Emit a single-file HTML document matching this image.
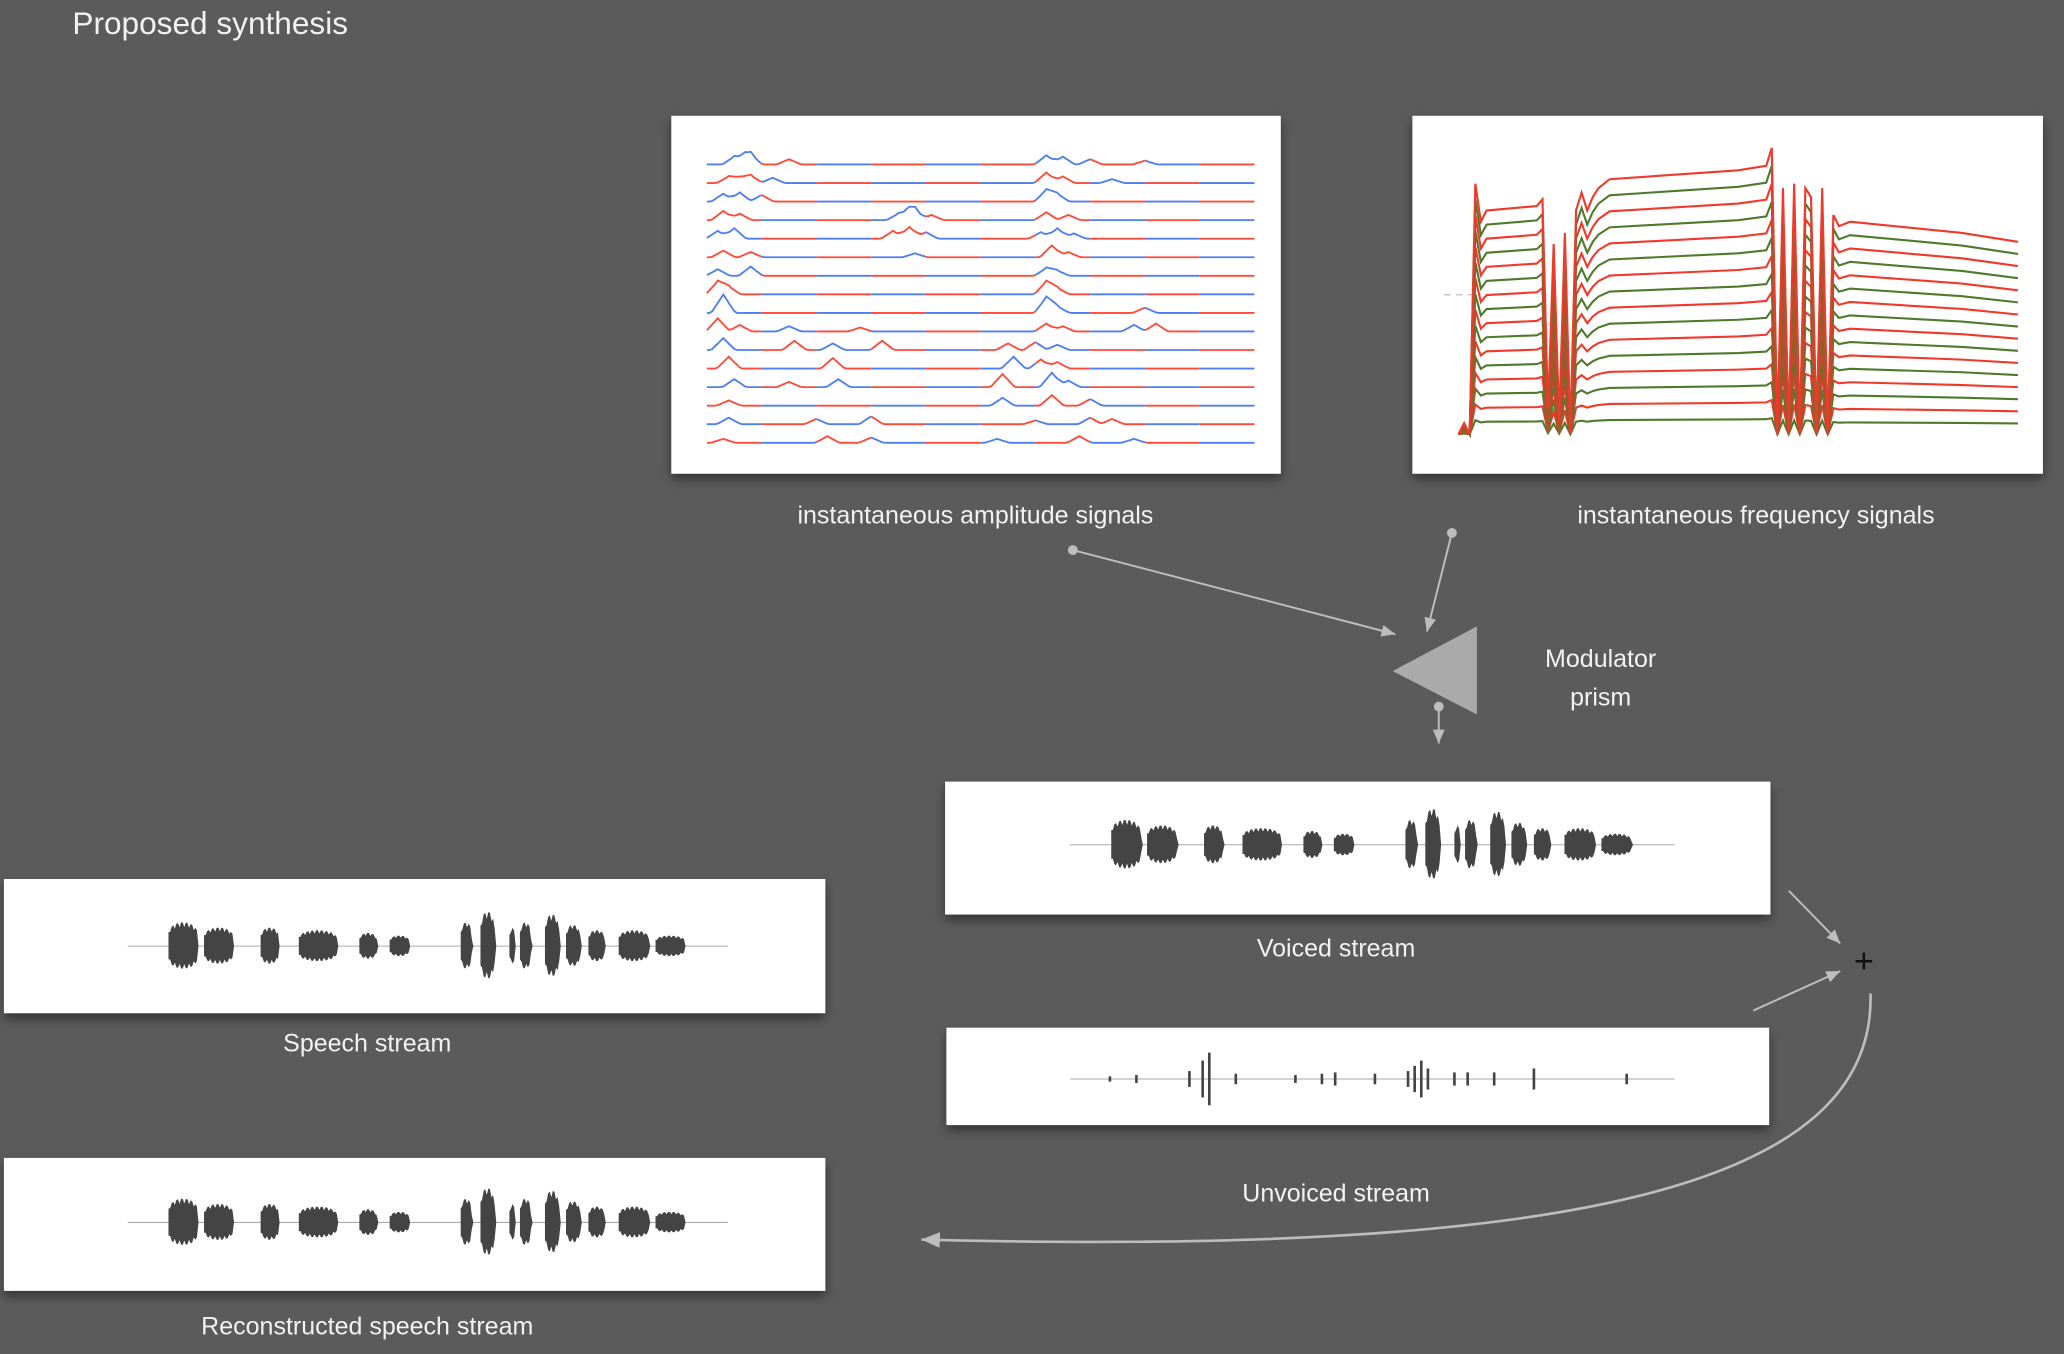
<!DOCTYPE html>
<html><head><meta charset="utf-8"><style>
html,body{margin:0;padding:0;background:#5b5b5b;}
svg{display:block;}
text{font-family:"Liberation Sans","DejaVu Sans",sans-serif;fill:#f2f2f2;}
</style></head><body>
<svg id="s" width="2064" height="1354" viewBox="0 0 1568 1029" preserveAspectRatio="none">
<defs>
<filter id="sh" x="-5%" y="-5%" width="110%" height="120%"><feDropShadow dx="0" dy="4" stdDeviation="4" flood-color="#000" flood-opacity="0.45"/></filter>
<marker id="ah" markerWidth="8" markerHeight="8" refX="7" refY="4" orient="auto"><path d="M0,1 L7,4 L0,7 Z" fill="#bdbdbd"/></marker>
</defs>
<rect width="1568" height="1029" fill="#5b5b5b"/>
<text x="55" y="26" font-size="24">Proposed synthesis</text>

<rect x="510" y="88" width="463" height="272" fill="#fff" filter="url(#sh)"/>
<rect x="1073" y="88" width="479" height="272" fill="#fff" filter="url(#sh)"/>
<rect x="718" y="594" width="627" height="101" fill="#fff" filter="url(#sh)"/>
<rect x="719" y="781" width="625" height="74" fill="#fff" filter="url(#sh)"/>
<rect x="3" y="668" width="624" height="102" fill="#fff" filter="url(#sh)"/>
<rect x="3" y="880" width="624" height="101" fill="#fff" filter="url(#sh)"/>
<line x1="1097" y1="224" x2="1125" y2="224" stroke="#bbb" stroke-dasharray="5,4"/>

<g id="amp"></g>
<g id="freq"></g>
<g id="wav"></g>

<text x="741" y="398" font-size="19" text-anchor="middle">instantaneous amplitude signals</text>
<text x="1334" y="398" font-size="19" text-anchor="middle">instantaneous frequency signals</text>
<text x="1216" y="507" font-size="19" text-anchor="middle">Modulator</text>
<text x="1216" y="536" font-size="19" text-anchor="middle">prism</text>
<text x="1015" y="727" font-size="19" text-anchor="middle">Voiced stream</text>
<text x="1015" y="913" font-size="19" text-anchor="middle">Unvoiced stream</text>
<text x="279" y="799" font-size="19" text-anchor="middle">Speech stream</text>
<text x="279" y="1014" font-size="19" text-anchor="middle">Reconstructed speech stream</text>

<polygon points="1058,510 1122,476 1122,543" fill="#aaa"/>
<g stroke="#bdbdbd" stroke-width="1.5" fill="none">
<circle cx="815" cy="418" r="3" fill="#bdbdbd"/>
<line x1="815" y1="418" x2="1060" y2="482" marker-end="url(#ah)"/>
<circle cx="1103" cy="405" r="3" fill="#bdbdbd"/>
<line x1="1103" y1="405" x2="1084" y2="480" marker-end="url(#ah)"/>
<circle cx="1093" cy="537" r="3" fill="#bdbdbd"/>
<line x1="1093" y1="537" x2="1093" y2="565" marker-end="url(#ah)"/>
<line x1="1359" y1="677" x2="1398" y2="717" marker-end="url(#ah)"/>
<line x1="1332" y1="768" x2="1398" y2="738" marker-end="url(#ah)"/>
<path d="M1421,755 C1425,900 1200,955 700,942" stroke="#bdbdbd" stroke-width="2" marker-end="url(#ah)"/>
</g>
<text x="1416" y="739" font-size="26" text-anchor="middle" fill="#111" style="fill:#111">+</text>
</svg>
<script>
// ---------- amplitude data ----------
const ampLines = 16;
const ampPeaks = [
 [[5,6],[7,5],[8,7],[15,4],[62,7],[65,6],[70,4],[80,3]],
 [[4,5],[6,4],[8,6],[12,4],[62,8],[65,5],[74,3]],
 [[3,6],[6,7],[10,5],[62,9],[64,6]],
 [[3,7],[6,5],[35,5],[37,6],[38,7],[41,4],[62,6],[66,4]],
 [[2,6],[5,8],[34,6],[37,9],[40,5],[61,5],[64,8],[67,4]],
 [[3,5],[8,4],[38,3],[63,9],[66,4]],
 [[2,5],[8,7],[62,6],[64,4]],
 [[2,10],[4,6],[62,10],[64,5]],
 [[3,14],[62,12],[64,5],[80,4]],
 [[2,10],[6,5],[15,4],[28,3],[62,6],[65,4],[78,5],[82,6]],
 [[3,9],[16,7],[23,5],[32,7],[55,5],[60,6],[64,4]],
 [[4,9],[23,8],[56,9],[61,7],[64,5]],
 [[5,6],[15,4],[24,6],[54,10],[63,11],[66,5]],
 [[4,4],[54,6],[63,8],[70,5]],
 [[4,5],[20,4],[30,6],[60,3],[70,5],[74,4]],
 [[3,3],[22,5],[30,4],[53,3],[68,5],[78,3]]
];
// ---------- frequency data ----------
const freqLines = 16;
const freqT = [0,1,2,3,4,5,14,15,16,17,18,19,20,21,22,23,24,25,27,50,55,56,57,58,59,60,61,62,63,64,65,66,67,68,70,90,100];
const freqF = [0,0.05,0,1.12,0.95,1.0,1.02,1.05,0.1,0.85,0.05,0.9,0.0,1.0,1.08,1.0,1.06,1.1,1.14,1.18,1.2,1.28,0.0,1.1,0.0,1.12,0.0,1.1,1.06,0.0,1.1,0.0,0.98,0.93,0.95,0.9,0.86];
// ---------- waveform data (seconds) ----------
const speechBlobs = [[0.31,0.58,18],[0.58,0.85,14],[1.01,1.18,14],[1.30,1.65,12],[1.76,1.92,10],[1.99,2.17,8],[2.53,2.63,18],[2.68,2.81,26],[2.90,2.95,14],[2.98,3.08,18],[3.17,3.30,24],[3.33,3.46,16],[3.50,3.65,12],[3.73,4.01,12],[4.01,4.28,8]];
const unvoicedSpikes = [[0.3,2],[0.5,3],[0.9,6],[1.0,14],[1.05,20],[1.25,4],[1.7,3],[1.9,4],[2.0,5],[2.3,4],[2.55,6],[2.6,10],[2.65,14],[2.7,8],[2.9,5],[3.0,5],[3.2,5],[3.5,8],[4.2,4]];

const NS="http://www.w3.org/2000/svg";
function mk(tag,attrs,parent){const e=document.createElementNS(NS,tag);for(const k in attrs)e.setAttribute(k,attrs[k]);parent.appendChild(e);return e;}

// amplitude chart
const ampG=document.getElementById('amp');
const ax=t=>537+t*4.16;
const ay=i=>125+i*14.1;
for(let i=0;i<ampLines;i++){
  const pk=ampPeaks[i];
  let pts=[];
  for(let t=0;t<=100;t+=0.5){
    let v=0;for(const p of pk){const d=(t-p[0]);v+=p[1]*Math.max(0,1-Math.abs(d)/2.2);}
    pts.push([ax(t),ay(i)-v]);
  }
  for(let s=0;s<10;s++){
    const seg=pts.slice(s*20,s*20+21).map(p=>p[0].toFixed(1)+','+p[1].toFixed(1)).join(' ');
    const pl=mk('polyline',{points:seg,fill:'none',stroke:((s+i)%2?'#ff4a3a':'#4f7ef0'),'stroke-width':1.4},ampG);
    
    
  }
}
// frequency chart
const freqG=document.getElementById('freq');
const fx=t=>1108+t*4.25;
for(let i=freqLines-1;i>=0;i--){
  const base=160+i*10.7;
  const pts=freqT.map((t,k)=>fx(t).toFixed(1)+','+(330-(330-base)*freqF[k]).toFixed(1)).join(' ');
  const pl=mk('polyline',{points:pts,fill:'none',stroke:(i%2?'#4e7a2c':'#f0392b'),'stroke-width':1.6},freqG);
  
  
}
// waveforms
const wavG=document.getElementById('wav');
function wave(x0,x1,cy,blobs,spikes,scale){
  const sx=s=>x0+s*(x1-x0)/4.56;
  const ln=mk('line',{x1:x0,y1:cy,x2:x1,y2:cy,stroke:'#aaa','stroke-width':0.8},wavG);
  
  
  if(blobs)for(const b of blobs){
    const a=sx(b[0]),c=sx(b[1]),h=b[2]*scale;let top=[],bot=[];
    for(let x=a,k=0;x<=c;x+=1.2,k++){
      const u=(x-a)/(c-a);const env=Math.pow(Math.sin(Math.PI*Math.min(1,u*1.15+0.03)),0.22);
      const hh=h*env*(k%3==1?0.8:1);
      top.push(x.toFixed(1)+','+(cy-hh).toFixed(1));bot.unshift(x.toFixed(1)+','+(cy+hh*0.95).toFixed(1));
    }
    const pg=mk('polygon',{points:top.concat(bot).join(' '),fill:'#444'},wavG);
    
    
  }
  if(spikes)for(const s of spikes){
    const r=mk('rect',{x:sx(s[0])-1,y:cy-s[1],width:2,height:2*s[1],fill:'#444'},wavG);
    
    
  }
}
wave(97,553,719,speechBlobs,null,1);
wave(97,553,929,speechBlobs,null,1);
wave(813,1272,642,speechBlobs,null,1.05);
wave(813,1272,820,null,unvoicedSpikes,1);
</script>
</body></html>
